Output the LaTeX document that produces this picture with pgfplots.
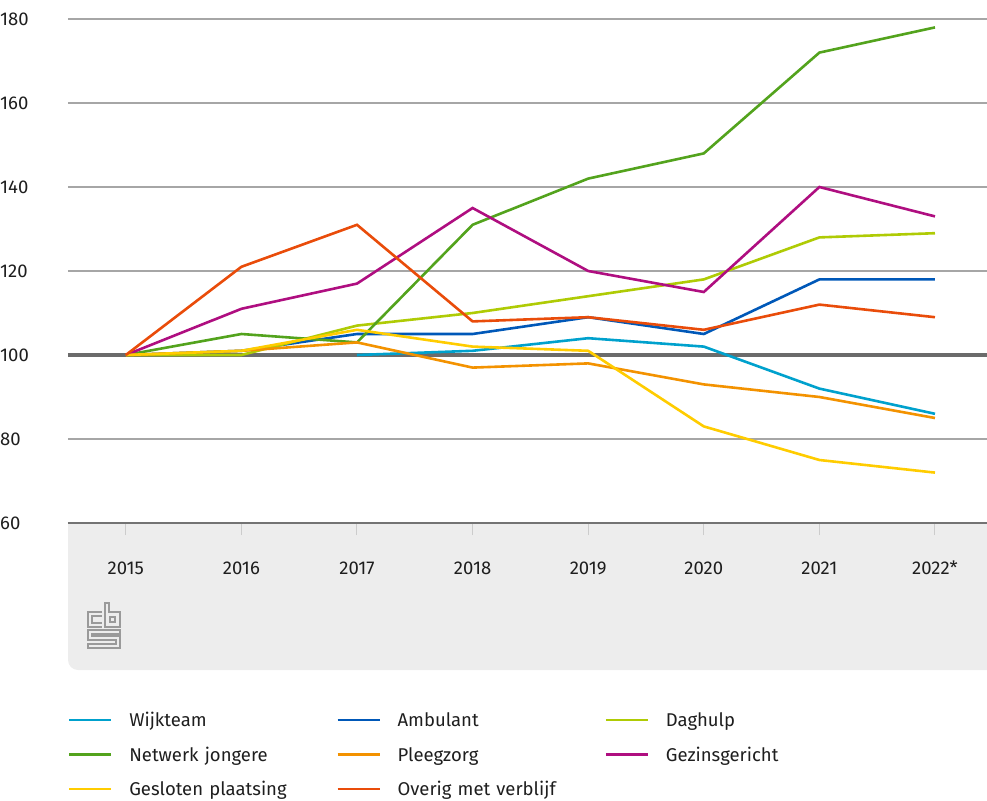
\documentclass[border=0pt]{standalone}
\usepackage{fontspec}
\setmainfont{Fira Sans}
\usepackage{pgfplots}
\pgfplotsset{compat=1.18}
\definecolor{cWijk}{HTML}{00A1CD}
\definecolor{cAmb}{HTML}{0058B8}
\definecolor{cDag}{HTML}{AFCB05}
\definecolor{cNet}{HTML}{53A31D}
\definecolor{cPleeg}{HTML}{F39200}
\definecolor{cGez}{HTML}{AF0E80}
\definecolor{cGesl}{HTML}{FFCC00}
\definecolor{cOver}{HTML}{E94C0A}
\definecolor{panel}{HTML}{EDEDED}
\definecolor{txt}{HTML}{1E1E1E}
\definecolor{logo}{HTML}{9A9A9A}
\begin{document}
\begin{tikzpicture}[font=\fontsize{18.5}{22}\selectfont, text=txt]
\useasboundingbox (-68pt,-277pt) rectangle (919pt,523pt);
\fill[panel] (0pt,0pt) -- (0pt,-137pt) arc[start angle=180,end angle=270,radius=10pt] -- (919pt,-147pt) -- (919pt,0pt) -- cycle;
% logo (decorative)
\begin{scope}[draw=logo, line width=1.4pt]
\draw (34pt,-89pt) -- (20pt,-89pt) -- (20pt,-104pt) -- (34pt,-104pt);
\draw (34pt,-93pt) -- (24pt,-93pt) -- (24pt,-100pt) -- (34pt,-100pt);
\draw (37pt,-80pt) -- (37pt,-104pt) -- (52pt,-104pt) -- (52pt,-89pt) -- (41pt,-89pt) -- (41pt,-80pt) -- cycle;
\draw (42pt,-94pt) rectangle (47pt,-99pt);
\draw (52pt,-107pt) -- (20pt,-107pt) -- (20pt,-117pt) -- (48pt,-117pt) -- (48pt,-121pt) -- (20pt,-121pt) -- (20pt,-125pt) -- (52pt,-125pt) -- (52pt,-113pt) -- (24pt,-113pt) -- (24pt,-111pt) -- (52pt,-111pt) -- cycle;
\end{scope}
\begin{axis}[
  scale only axis, width=919pt, height=504pt,
  xmin=-0.5, xmax=7.45, ymin=60, ymax=180,
  xtick={0,...,7},
  xticklabels={2015,2016,2017,2018,2019,2020,2021,2022*},
  ytick={60,80,...,180},
  axis line style={draw=none},
  xtick pos=bottom, tick align=outside,
  major tick length=12pt,
  xtick style={draw=gray!40, line width=1pt},
  ytick style={draw=none},
  ymajorgrids,
  grid style={color=black!35, line width=1.5pt},
  /pgf/number format/assume math mode=true,
  yticklabel style={anchor=west, xshift=-56pt, inner sep=0pt},
  xticklabel style={anchor=center, inner sep=0pt, yshift=-33pt},
  tick label style={font=\fontsize{18.5}{22}\selectfont, text=txt},
  every axis plot/.append style={line width=2.6pt, mark=none},
  legend columns=3,
  legend cell align=left,
  legend image code/.code={\draw[#1] (0pt,0pt) -- (42pt,0pt); \path[draw=none] (0pt,0pt) -- (60pt,0pt);},
  legend style={at={(0,-0.378)}, anchor=north west, draw=none, fill=none,
    inner sep=0pt, outer sep=0pt, column sep=0pt, row sep=21.5pt,
    font=\fontsize{18.5}{22}\selectfont,
    nodes={inner sep=0pt, text width=207pt, text height=13pt, text depth=0pt, anchor=west}},
]
\draw[black!55, line width=2pt] (rel axis cs:0,0) -- (rel axis cs:1,0);
\draw[black!58, line width=4pt] (rel axis cs:0,0.33333) -- (rel axis cs:1,0.33333);
\addplot[cWijk] coordinates {(2,100) (3,101) (4,104) (5,102) (6,92) (7,86)};
\addlegendentry{Wijkteam}
\addplot[cAmb] coordinates {(0,100) (1,101) (2,105) (3,105) (4,109) (5,105) (6,118) (7,118)};
\addlegendentry{Ambulant}
\addplot[cDag] coordinates {(0,100) (1,100) (2,107) (3,110) (4,114) (5,118) (6,128) (7,129)};
\addlegendentry{Daghulp}
\addplot[cNet] coordinates {(0,100) (1,105) (2,103) (3,131) (4,142) (5,148) (6,172) (7,178)};
\addlegendentry{Netwerk jongere}
\addplot[cPleeg] coordinates {(0,100) (1,101) (2,103) (3,97) (4,98) (5,93) (6,90) (7,85)};
\addlegendentry{Pleegzorg}
\addplot[cGez] coordinates {(0,100) (1,111) (2,117) (3,135) (4,120) (5,115) (6,140) (7,133)};
\addlegendentry{Gezinsgericht}
\addplot[cGesl] coordinates {(0,100) (1,101) (2,106) (3,102) (4,101) (5,83) (6,75) (7,72)};
\addlegendentry{Gesloten plaatsing}
\addplot[cOver] coordinates {(0,100) (1,121) (2,131) (3,108) (4,109) (5,106) (6,112) (7,109)};
\addlegendentry{Overig met verblijf}
\end{axis}
\end{tikzpicture}
\end{document}
